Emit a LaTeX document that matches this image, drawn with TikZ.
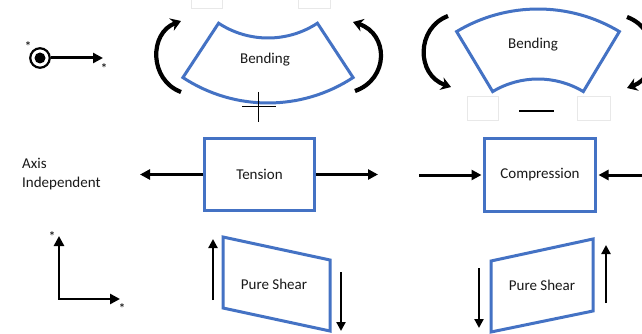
\documentclass[tikz,border=0pt]{standalone}
\usepackage{fontspec}
\setmainfont{Carlito}
\usetikzlibrary{arrows.meta,calc}
\definecolor{shapeblue}{RGB}{68,114,196}
\definecolor{txt}{RGB}{25,25,25}
\begin{document}
\begin{tikzpicture}[x=1pt,y=-1pt,
  lbl/.style={font=\fontsize{15}{19}\selectfont, inner sep=0pt, text=txt},
  starlbl/.style={font=\fontsize{14}{14}\selectfont, inner sep=0pt},
  blueline/.style={draw=shapeblue, line width=3pt, line join=miter},
  bluebox/.style={blueline, rectangle, inner sep=0pt, text=txt, font=\fontsize{15}{18}\selectfont},
  arr/.style={line width=3pt, -{Triangle[length=10pt,width=10pt]}},
  axarr/.style={line width=2.8pt, {Triangle[length=10pt,width=10pt]}-{Triangle[length=10pt,width=10pt]}, line join=miter},
  thinarr/.style={line width=2.2pt, -{Triangle[length=9pt,width=9pt]}},
  curvarr/.style={line width=4.2pt, -{Stealth[length=10pt,width=13pt]}},
  ghost/.style={draw=black!9, line width=0.6pt},
  signline/.style={line width=1pt},
]
\useasboundingbox (0,0) rectangle (642,334);
\clip (0,0) rectangle (642,334);
\fill[white] (0,0) rectangle (642,334);

% ---- top-left symbol
\node[circle, draw, line width=2.2pt, minimum size=19.5pt, inner sep=0pt] (dot) at (40,58) {};
\fill (dot.center) circle[radius=5.5];
\coordinate (dotTip) at (103,58);
\draw[arr] (dot.east) -- (dotTip);
\node[starlbl] (s1) at (28,47) {*};
\node[starlbl] (s2) at (104,69) {*};

% ---- ghost boxes
\draw[ghost] (191,-1) rectangle (222,8);
\draw[ghost] (298,-1) rectangle (330,8);
\draw[ghost] (467,96) rectangle (498,120);
\draw[ghost] (577,96) rectangle (610,120);

% ---- left bending
\coordinate (cL) at (268,-52);
\draw[blueline] ($(cL)+(123.3:155)$) -- ($(cL)+(123.3:90)$)
  arc[start angle=123.3, end angle=56.7, radius=90]
  -- ($(cL)+(56.7:155)$)
  arc[start angle=56.7, end angle=123.3, radius=155] -- cycle;
\node[lbl] (bendL) at (265,60) {Bending};
\coordinate (a1s) at (181,92); \coordinate (a1e) at (181,21);
\draw[curvarr] (a1s) .. controls (149,80) and (149,33) .. (a1e);
\coordinate (a2s) at (355,91); \coordinate (a2e) at (353,22);
\draw[curvarr] (a2s) .. controls (389,79) and (389,34) .. (a2e);
\coordinate (p1) at (242,107); \coordinate (p2) at (276,107);
\coordinate (p3) at (258,92); \coordinate (p4) at (258,122);
\draw[signline] (p1) -- (p2);
\draw[signline] (p3) -- (p4);

% ---- right bending
\coordinate (cR) at (538,167);
\draw[blueline] ($(cR)+(239:158)$) -- ($(cR)+(239:88)$)
  arc[start angle=239, end angle=301, radius=88]
  -- ($(cR)+(301:158)$)
  arc[start angle=301, end angle=239, radius=158] -- cycle;
\node[lbl] (bendR) at (533,45) {Bending};
\coordinate (a3s) at (448,16); \coordinate (a3e) at (451,87);
\draw[curvarr] (a3s) .. controls (416,28) and (416,75) .. (a3e);
\coordinate (a4s) at (627,17); \coordinate (a4e) at (627,88);
\draw[curvarr] (a4s) .. controls (660,29) and (660,76) .. (a4e);
\coordinate (m1) at (519,111); \coordinate (m2) at (554,111);
\draw[line width=2pt] (m1) -- (m2);

% ---- middle row
\node[lbl, anchor=west, align=left] (axis) at (22,174) {Axis\\Independent};
\node[bluebox, minimum width=110pt, minimum height=72pt] (tension) at (259.5,174.5) {Tension};
\coordinate (tL) at (140,174.5); \coordinate (tR) at (378,174.5);
\draw[arr] (tension.west) -- (tL);
\draw[arr] (tension.east) -- (tR);
\node[bluebox, minimum width=111pt, minimum height=73pt] (comp) at (540,175) {Compression};
\coordinate (cLs) at (419,175); \coordinate (cRs) at (650,175);
\draw[arr, shorten >=1.5pt] (cLs) -- (comp.west);
\draw[arr, shorten >=1.5pt] (cRs) -- (comp.east);

% ---- bottom row
\coordinate (corner) at (59,299);
\coordinate (ytip) at (59,236); \coordinate (xtip) at (120,299);
\draw[axarr] (ytip) -- (corner) -- (xtip);
\node[starlbl] (s3) at (52,237) {*};
\node[starlbl] (s4) at (122,309) {*};

\draw[blueline] (223,237) -- (330,260) -- (330,331) -- (223,308) -- cycle;
\node[lbl] (shearL) at (274,284) {Pure Shear};
\coordinate (l1s) at (213,300); \coordinate (l1e) at (213,239);
\draw[thinarr] (l1s) -- (l1e);
\coordinate (l2s) at (341,272); \coordinate (l2e) at (341,331);
\draw[thinarr] (l2s) -- (l2e);

\draw[blueline] (491,261) -- (593,239) -- (593,311) -- (491,332) -- cycle;
\node[lbl] (shearR) at (542,285) {Pure Shear};
\coordinate (r1s) at (479,268); \coordinate (r1e) at (479,328);
\draw[thinarr] (r1s) -- (r1e);
\coordinate (r2s) at (606,303); \coordinate (r2e) at (606,245);
\draw[thinarr] (r2s) -- (r2e);
\end{tikzpicture}
\end{document}
